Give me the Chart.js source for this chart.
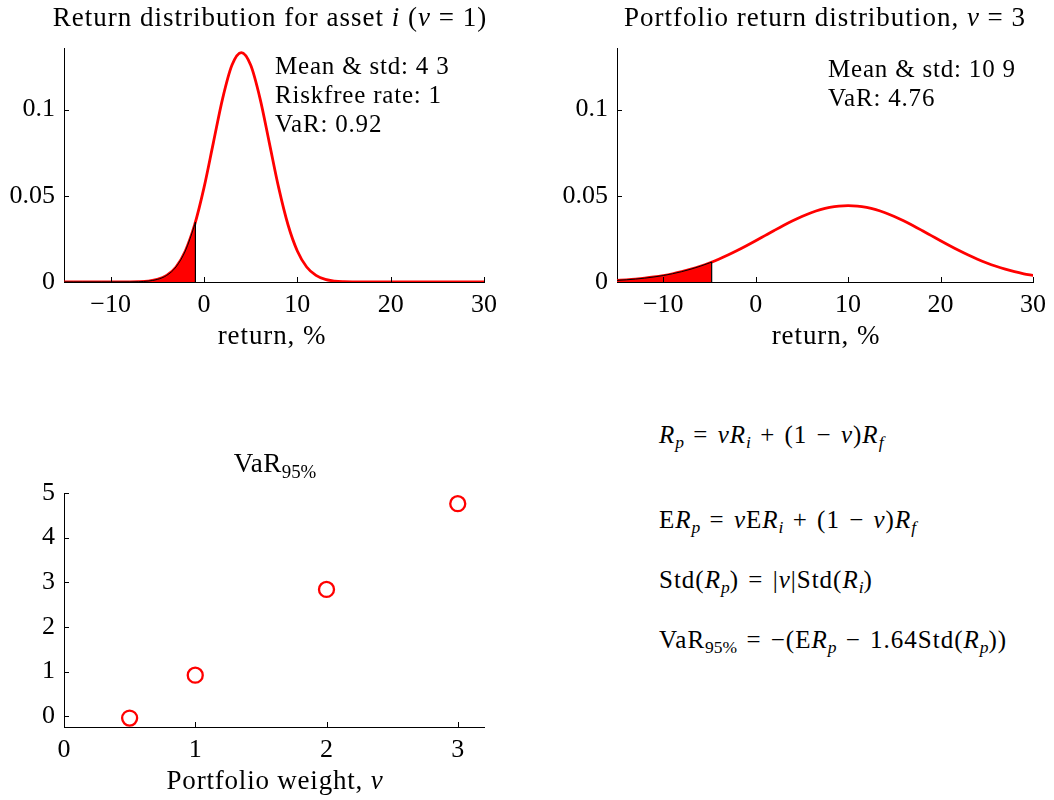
<!DOCTYPE html>
<html>
<head>
<meta charset="utf-8">
<script src="https://cdn.jsdelivr.net/npm/chart.js@4.4.1/dist/chart.umd.min.js"></script>
<style>
  body { margin: 0; background: #fff; }
  #wrap { position: relative; width: 1054px; height: 800px; font-family: "Liberation Serif", serif; color: #000; }
  canvas { position: absolute; }
  .txt { position: absolute; white-space: nowrap; line-height: 1; }
  .txt sub { font-size: 70%; line-height: 0; vertical-align: -0.3em; letter-spacing: 0; }
</style>
</head>
<body>
<div id="wrap">
  <canvas id="assetChart" width="527" height="330" style="left:0;top:0"></canvas>
  <canvas id="portChart" width="501" height="330" style="left:553px;top:0"></canvas>
  <canvas id="varChart" width="527" height="330" style="left:0;top:445px"></canvas>
</div>
<script>
// return grid in %, one point per unit
const returnGrid = [-15, -14, -13, -12, -11, -10, -9, -8, -7, -6, -5, -4, -3, -2, -1, 0, 1, 2, 3, 4, 5, 6, 7, 8,
  9, 10, 11, 12, 13, 14, 15, 16, 17, 18, 19, 20, 21, 22, 23, 24, 25, 26, 27, 28, 29, 30];

// asset i: mean 4, std 3
const assetDensity = [0, 0, 0, 0, 0, 0, 0.00001, 0.00004, 0.00016, 0.00051, 0.00148, 0.0038, 0.0087, 0.0180,
  0.0332, 0.0547, 0.0807, 0.1065, 0.1258, 0.1330, 0.1258, 0.1065, 0.0807, 0.0547, 0.0332, 0.0180, 0.0087,
  0.0038, 0.00148, 0.00051, 0.00016, 0.00004, 0.00001, 0, 0, 0, 0, 0, 0, 0, 0, 0, 0, 0, 0, 0];

// portfolio with v = 3: mean 10, std 9
const portDensity = [0.00094, 0.00127, 0.00169, 0.00223, 0.00291, 0.00375, 0.00477, 0.00600, 0.00745, 0.00913,
  0.01105, 0.01322, 0.01562, 0.01823, 0.02101, 0.02391, 0.02689, 0.02986, 0.03276, 0.03550, 0.03799,
  0.04016, 0.04194, 0.04325, 0.04406, 0.04433, 0.04406, 0.04325, 0.04194, 0.04016, 0.03799, 0.03550,
  0.03276, 0.02986, 0.02689, 0.02391, 0.02101, 0.01823, 0.01562, 0.01322, 0.01105, 0.00913, 0.00745,
  0.00600, 0.00477, 0.00375];

// VaR and density at the cut-off return (-VaR)
const assetVaR = 0.92;
const assetCutDensity = 0.0347;
const portVaR = 4.76;
const portCutDensity = 0.01155;

// VaR_95% against portfolio weight
const weights = [0.5, 1, 2, 3];
const varValues = [-0.04, 0.92, 2.84, 4.76];

const returnTicks = [-10, 0, 10, 20, 30];
const densityTicks = [0, 0.05, 0.1];
const weightTicks = [0, 1, 2, 3];
const varTicks = [0, 1, 2, 3, 4, 5];

const FONT = 'Liberation Serif';
const RED = '#ff0000';

// matlab-like ticks pointing into the plot
const inwardTicks = {
  id: 'inwardTicks',
  afterDraw(chart) {
    const { ctx, chartArea: a, scales: { x, y } } = chart;
    const len = 5;
    ctx.save();
    ctx.strokeStyle = '#000';
    ctx.lineWidth = 1;
    ctx.beginPath();
    x.ticks.forEach(t => {
      const px = Math.round(x.getPixelForValue(t.value)) + 0.5;
      ctx.moveTo(px, a.bottom);
      ctx.lineTo(px, a.bottom - len);
    });
    y.ticks.forEach(t => {
      const py = Math.round(y.getPixelForValue(t.value)) + 0.5;
      ctx.moveTo(a.left, py);
      ctx.lineTo(a.left + len, py);
    });
    ctx.stroke();
    ctx.restore();
  }
};

const fmt = v => String(v).replace('-', '\u2212');

function scales(xMin, xMax, xTicks, yMin, yMax, yTicks) {
  const font = { family: FONT, size: 26 };
  return {
    x: {
      type: 'linear', min: xMin, max: xMax,
      afterBuildTicks: s => { s.ticks = xTicks.map(v => ({ value: v })); },
      afterFit: s => { s.height = 48; },
      grid: { display: false, drawTicks: false },
      border: { color: '#000', width: 1 },
      ticks: { font, color: '#000', padding: 8, maxRotation: 0, autoSkip: false, callback: fmt }
    },
    y: {
      type: 'linear', min: yMin, max: yMax,
      afterBuildTicks: s => { s.ticks = yTicks.map(v => ({ value: v })); },
      afterFit: s => { s.width = 64; },
      grid: { display: false, drawTicks: false },
      border: { color: '#000', width: 1 },
      ticks: { font, color: '#000', padding: 9, autoSkip: false, callback: fmt }
    }
  };
}

const common = {
  responsive: false,
  animation: false,
  events: [],
  plugins: { legend: { display: false }, tooltip: { enabled: false } }
};

function densityChart(id, density, varValue, cutDensity, rightPad) {
  const curve = returnGrid.map((r, i) => ({ x: r, y: density[i] }));
  // shaded tail up to the cut-off
  const tail = curve.filter(p => p.x < -varValue).concat([{ x: -varValue, y: cutDensity }]);
  new Chart(document.getElementById(id), {
    type: 'line',
    data: {
      datasets: [
        { data: tail, borderColor: '#000', borderWidth: 1, backgroundColor: RED, fill: 'origin',
          pointRadius: 0, cubicInterpolationMode: 'monotone', order: 1 },
        { data: [{ x: -varValue, y: 0 }, { x: -varValue, y: cutDensity }], borderColor: '#000',
          borderWidth: 1.2, pointRadius: 0, fill: false, order: 0 },
        { data: curve, borderColor: RED, borderWidth: 2.8, pointRadius: 0, fill: false,
          cubicInterpolationMode: 'monotone', order: 2 }
      ]
    },
    options: Object.assign({}, common, {
      layout: { padding: { top: 48, right: rightPad, left: 0, bottom: 0 } },
      scales: scales(-15, 30, returnTicks, 0, 0.1357, densityTicks)
    }),
    plugins: [inwardTicks]
  });
}

densityChart('assetChart', assetDensity, assetVaR, assetCutDensity, 43);
densityChart('portChart', portDensity, portVaR, portCutDensity, 16);

new Chart(document.getElementById('varChart'), {
  type: 'scatter',
  data: {
    datasets: [{
      data: weights.map((w, i) => ({ x: w, y: varValues[i] })),
      pointStyle: 'circle', pointRadius: 7.5, borderWidth: 2.3,
      borderColor: RED, backgroundColor: 'rgba(0,0,0,0)'
    }]
  },
  options: Object.assign({}, common, {
    layout: { padding: { top: 48, right: 43, left: 0, bottom: 0 } },
    scales: scales(0, 3.2, weightTicks, -0.24, 5, varTicks)
  }),
  plugins: [inwardTicks]
});

// titles, labels and formulas
const wrap = document.getElementById('wrap');
function label(html, x, baseline, size, align, spacing, wordGap) {
  const d = document.createElement('div');
  d.className = 'txt';
  d.innerHTML = html;
  d.style.fontSize = size + 'px';
  d.style.letterSpacing = (spacing || 0) + 'px';
  d.style.wordSpacing = (wordGap || 0) + 'px';
  d.style.top = (baseline - 0.8375 * size) + 'px';
  d.style.left = x + 'px';
  if (align === 'center') d.style.transform = 'translateX(-50%)';
  wrap.appendChild(d);
}

const sub = s => '<sub>' + s + '</sub>';
const it = s => '<i>' + s + '</i>';

label('Return distribution for asset ' + it('i') + ' (' + it('v') + ' = 1)', 270, 27, 27, 'center', 1);
label('Portfolio return distribution, ' + it('v') + ' = 3', 825, 27, 27, 'center', 1);
label('Mean &amp; std: 4 3', 275, 74, 25, null, 0.8);
label('Riskfree rate: 1', 275, 103, 25, null, 0.8);
label('VaR: 0.92', 275, 132, 25, null, 0.8);
label('Mean &amp; std: 10 9', 828, 77, 25, null, 0.8);
label('VaR: 4.76', 828, 106, 25, null, 0.8);
label('return, %', 272, 345, 27, 'center', 0.9);
label('return, %', 826, 345, 27, 'center', 0.9);
label('VaR' + sub('95%'), 275, 473, 27, 'center', 0.5);
label('Portfolio weight, ' + it('v'), 275, 790, 27, 'center', 0.8);

label(it('R') + sub(it('p')) + ' = ' + it('vR') + sub(it('i')) + ' + (1 \u2212 ' + it('v') + ')' + it('R') + sub(it('f')), 659, 443, 25, null, 1, 2);
label('E' + it('R') + sub(it('p')) + ' = ' + it('v') + 'E' + it('R') + sub(it('i')) + ' + (1 \u2212 ' + it('v') + ')' + it('R') + sub(it('f')), 659, 528, 25, null, 1, 2);
label('Std(' + it('R') + sub(it('p')) + ') = |' + it('v') + '|Std(' + it('R') + sub(it('i')) + ')', 659, 588, 25, null, 1, 2);
label('VaR' + sub('95%') + ' = \u2212(E' + it('R') + sub(it('p')) + ' \u2212 1.64Std(' + it('R') + sub(it('p')) + '))', 659, 648, 25, null, 1, 2);
</script>
</body>
</html>
